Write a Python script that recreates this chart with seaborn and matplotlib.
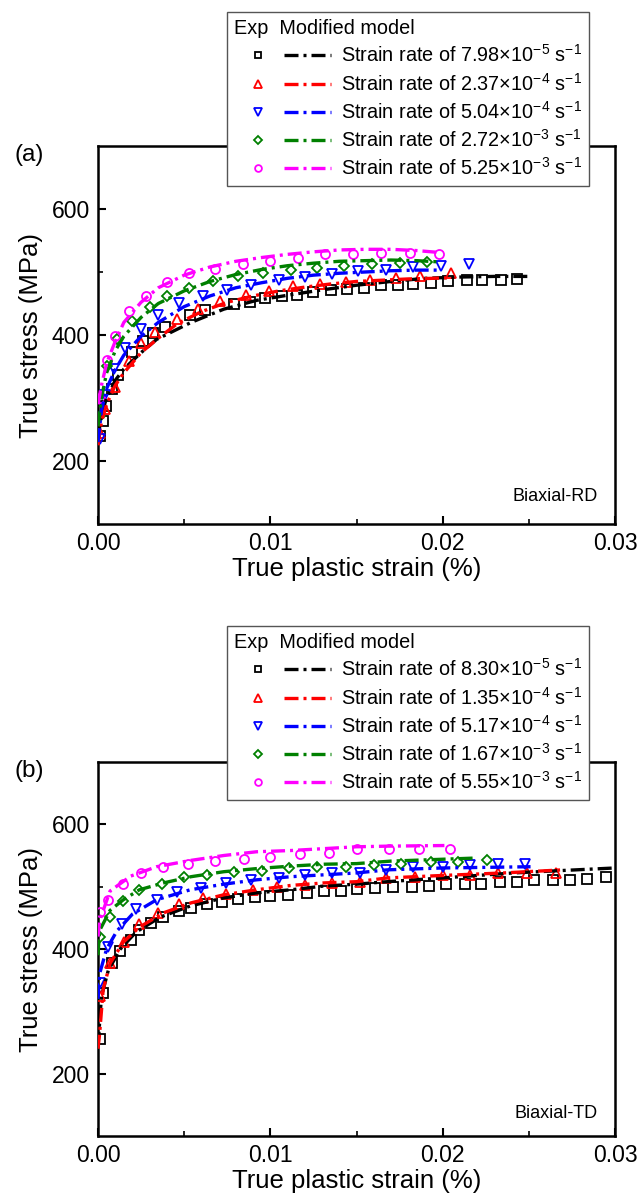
import numpy as np
import matplotlib
matplotlib.use("Agg")
import matplotlib.pyplot as plt
import seaborn as sns
from matplotlib.lines import Line2D
from matplotlib.legend_handler import HandlerTuple

sns.set_style("ticks")
plt.rcParams['font.family'] = ['Liberation Sans', 'DejaVu Sans']
plt.rcParams['mathtext.fontset'] = 'custom'
plt.rcParams['mathtext.rm'] = 'Liberation Sans'
plt.rcParams['mathtext.it'] = 'Liberation Sans:italic'
plt.rcParams['mathtext.bf'] = 'Liberation Sans:bold'
plt.rcParams['text.color'] = 'black'
plt.rcParams['axes.labelcolor'] = 'black'
plt.rcParams['xtick.color'] = 'black'
plt.rcParams['ytick.color'] = 'black'

colors = ['#000000', '#FF0000', '#0000FF', '#008000', '#FF00FF']
markers = ['s', '^', 'v', 'D', 'o']

rd_labels = ["7.98", "2.37", "5.04", "2.72", "5.25"]
rd_exps = [-5, -4, -4, -3, -3]
td_labels = ["8.30", "1.35", "5.17", "1.67", "5.55"]
td_exps = [-5, -4, -4, -3, -3]

# ---------------- Biaxial-RD (a) ----------------
rd_model_x_1 = [0, 0.0002, 0.0005, 0.001, 0.0015, 0.0025, 0.0034, 0.0054, 0.0073, 0.0092, 0.0112, 0.0131, 0.015, 0.017, 0.019, 0.021, 0.023, 0.025]
rd_model_y_1 = [235, 275, 300, 328, 346, 372, 393, 420, 441, 455, 464, 472, 479, 485, 490, 492, 493, 493]
rd_exp_x_1 = [0.0001, 0.0003, 0.00047, 0.0008, 0.00118, 0.002, 0.00263, 0.0032, 0.0039, 0.00535, 0.0062, 0.0079, 0.0088, 0.0097, 0.0107, 0.01155, 0.0125, 0.0135, 0.01445, 0.01543, 0.0164, 0.0174, 0.0183, 0.0193, 0.0203, 0.0214, 0.0223, 0.0234, 0.0243]
rd_exp_y_1 = [240, 263, 288, 314, 337, 373, 391, 403, 413, 431, 439, 449, 453, 459, 462, 464, 468, 471, 473, 475, 479, 479, 481, 483, 485, 487, 488, 488, 489]

rd_model_x_2 = [0, 0.0002, 0.0005, 0.001, 0.0015, 0.0025, 0.0035, 0.0046, 0.006, 0.0075, 0.009, 0.0105, 0.012, 0.0135, 0.015, 0.0165, 0.018, 0.0195, 0.0205]
rd_model_y_2 = [225, 262, 290, 320, 340, 372, 395, 418, 437, 452, 462, 470, 476, 481, 485, 487, 489, 490, 491]
rd_exp_x_2 = [0.0001, 0.0004, 0.001, 0.0018, 0.0025, 0.0033, 0.0046, 0.0058, 0.0071, 0.0086, 0.0099, 0.0113, 0.0129, 0.0144, 0.0158, 0.0173, 0.0187, 0.0205]
rd_exp_y_2 = [245, 283, 318, 358, 388, 405, 426, 441, 454, 463, 470, 477, 481, 484, 488, 490, 493, 499]

rd_model_x_3 = [0, 0.0002, 0.0005, 0.001, 0.0015, 0.0025, 0.0035, 0.005, 0.0065, 0.008, 0.0095, 0.011, 0.0125, 0.014, 0.0155, 0.017, 0.0185, 0.0198]
rd_model_y_3 = [230, 280, 315, 345, 368, 398, 420, 445, 462, 475, 483, 490, 495, 498, 500, 502, 503, 503]
rd_exp_x_3 = [0.0001, 0.0004, 0.0009, 0.00157, 0.0025, 0.0035, 0.0047, 0.0061, 0.0075, 0.0089, 0.0105, 0.012, 0.0136, 0.0151, 0.0167, 0.0183, 0.0199, 0.0215]
rd_exp_y_3 = [235, 305, 346, 380, 409, 431, 451, 462, 472, 480, 487, 492, 497, 501, 503, 508, 510, 513]

rd_model_x_4 = [0, 0.0002, 0.0005, 0.001, 0.0015, 0.0025, 0.0035, 0.005, 0.0065, 0.008, 0.0095, 0.011, 0.0125, 0.014, 0.0155, 0.017, 0.0185, 0.0198]
rd_model_y_4 = [255, 300, 340, 375, 398, 428, 450, 470, 485, 496, 504, 510, 514, 517, 518, 519, 518, 516]
rd_exp_x_4 = [0.0001, 0.0005, 0.0011, 0.002, 0.003, 0.004, 0.0053, 0.0067, 0.0081, 0.0096, 0.0112, 0.0127, 0.0143, 0.0159, 0.0175, 0.0191]
rd_exp_y_4 = [272, 350, 393, 422, 445, 462, 475, 486, 494, 499, 503, 507, 509, 513, 514, 516]

rd_model_x_5 = [0, 0.0002, 0.0005, 0.001, 0.0015, 0.0025, 0.0035, 0.005, 0.0065, 0.008, 0.0095, 0.011, 0.0125, 0.014, 0.0155, 0.017, 0.0185, 0.0198]
rd_model_y_5 = [290, 320, 355, 390, 420, 452, 475, 495, 508, 517, 523, 528, 532, 535, 536, 536, 534, 531]
rd_exp_x_5 = [0.0001, 0.0005, 0.001, 0.0018, 0.0028, 0.004, 0.0053, 0.0068, 0.0084, 0.01, 0.0116, 0.0132, 0.0148, 0.0164, 0.0181, 0.0198]
rd_exp_y_5 = [300, 360, 398, 438, 462, 484, 498, 505, 513, 518, 522, 528, 529, 530, 530, 529]

# ---------------- Biaxial-TD (b) ----------------
td_model_x_1 = [0, 0.0002, 0.0006, 0.0013, 0.0022, 0.0036, 0.00535, 0.0073, 0.0092, 0.0112, 0.0131, 0.015, 0.0168, 0.0205, 0.0241, 0.027, 0.03]
td_model_y_1 = [245, 324, 366, 400, 427, 451, 469, 482, 490, 495, 501, 504, 508, 515, 522, 526, 530]
td_exp_x_1 = [0.0001, 0.0003, 0.0008, 0.0013, 0.0019, 0.0024, 0.0031, 0.0038, 0.0047, 0.0054, 0.0063, 0.0072, 0.0081, 0.0091, 0.01, 0.011, 0.0121, 0.0131, 0.0141, 0.015, 0.0161, 0.0171, 0.0182, 0.0192, 0.0202, 0.0213, 0.0222, 0.0233, 0.0243, 0.0253, 0.0264, 0.0274, 0.0284, 0.0295]
td_exp_y_1 = [255, 330, 377, 396, 415, 430, 442, 452, 461, 466, 472, 476, 481, 483, 485, 487, 490, 493, 493, 497, 498, 499, 500, 501, 504, 505, 505, 507, 508, 510, 510, 510, 513, 515]

td_model_x_2 = [0, 0.0001, 0.0003, 0.0007, 0.00147, 0.0024, 0.0038, 0.0054, 0.0073, 0.0092, 0.0112, 0.0131, 0.015, 0.0168, 0.02, 0.0235, 0.027]
td_model_y_2 = [240, 266, 335, 377, 411, 435, 458, 474, 487, 495, 502, 506, 508, 514, 518, 522, 527]
td_exp_x_2 = [0.0001, 0.0007, 0.0015, 0.0024, 0.0035, 0.0047, 0.0061, 0.0074, 0.009, 0.0104, 0.012, 0.0136, 0.0152, 0.0167, 0.0184, 0.02, 0.0216, 0.0232, 0.0249, 0.0266]
td_exp_y_2 = [324, 377, 412, 440, 458, 472, 482, 488, 495, 499, 503, 506, 508, 514, 516, 518, 519, 522, 522, 522]

td_model_x_3 = [0, 0.0001, 0.0005, 0.0011, 0.002, 0.0034, 0.00535, 0.0073, 0.0092, 0.0112, 0.0131, 0.015, 0.0168, 0.02, 0.0251]
td_model_y_3 = [320, 361, 400, 429, 456, 479, 495, 504, 511, 516, 519, 522, 527, 530, 532]
td_exp_x_3 = [0.0001, 0.0006, 0.0014, 0.0022, 0.0034, 0.0046, 0.006, 0.0074, 0.0089, 0.0105, 0.012, 0.0136, 0.0152, 0.0167, 0.0183, 0.02, 0.0216, 0.0232, 0.0248]
td_exp_y_3 = [345, 403, 440, 464, 479, 491, 498, 506, 510, 514, 519, 522, 522, 527, 531, 532, 534, 536, 536]

td_model_x_4 = [0, 0.0001, 0.0007, 0.00147, 0.0024, 0.0038, 0.0054, 0.0073, 0.0092, 0.0112, 0.0131, 0.015, 0.017, 0.022]
td_model_y_4 = [390, 430, 462, 479, 495, 506, 516, 524, 529, 533, 536, 537, 541, 546]
td_exp_x_4 = [0.0001, 0.0007, 0.00147, 0.0024, 0.0037, 0.005, 0.0063, 0.0079, 0.0095, 0.0111, 0.0127, 0.0144, 0.016, 0.0176, 0.0193, 0.0209, 0.0226]
td_exp_y_4 = [420, 452, 477, 494, 505, 515, 519, 523, 525, 530, 532, 532, 535, 536, 539, 540, 542]

td_model_x_5 = [0, 0.0001, 0.0007, 0.0019, 0.0034, 0.00535, 0.0073, 0.0092, 0.0112, 0.0131, 0.015, 0.0168, 0.0201]
td_model_y_5 = [420, 446, 493, 517, 532, 542, 550, 556, 558, 561, 564, 565, 566]
td_exp_x_5 = [0.0001, 0.0006, 0.00147, 0.0025, 0.0038, 0.0052, 0.0068, 0.0085, 0.01, 0.0117, 0.0134, 0.015, 0.0169, 0.0186, 0.0204]
td_exp_y_5 = [460, 479, 505, 522, 532, 537, 541, 545, 548, 552, 554, 561, 561, 561, 561]

rd_models = [(rd_model_x_1, rd_model_y_1), (rd_model_x_2, rd_model_y_2), (rd_model_x_3, rd_model_y_3),
             (rd_model_x_4, rd_model_y_4), (rd_model_x_5, rd_model_y_5)]
rd_exps_data = [(rd_exp_x_1, rd_exp_y_1), (rd_exp_x_2, rd_exp_y_2), (rd_exp_x_3, rd_exp_y_3),
                (rd_exp_x_4, rd_exp_y_4), (rd_exp_x_5, rd_exp_y_5)]
td_models = [(td_model_x_1, td_model_y_1), (td_model_x_2, td_model_y_2), (td_model_x_3, td_model_y_3),
             (td_model_x_4, td_model_y_4), (td_model_x_5, td_model_y_5)]
td_exps_data = [(td_exp_x_1, td_exp_y_1), (td_exp_x_2, td_exp_y_2), (td_exp_x_3, td_exp_y_3),
                (td_exp_x_4, td_exp_y_4), (td_exp_x_5, td_exp_y_5)]

W, H = 638, 1196
fig = plt.figure(figsize=(W / 100, H / 100), dpi=100)
ax_a = fig.add_axes([98 / W, 1 - 524 / H, 517 / W, 378 / H])
ax_b = fig.add_axes([98 / W, 1 - 1136 / H, 517 / W, 374 / H])

dash = (0, (4.2, 1.5, 0.9, 1.5))
ms_map = {'s': 6.5, '^': 7, 'v': 7, 'D': 5.5, 'o': 6.5}


def draw_panel(ax, models, exps, labels, exps_pow, tag, name, name_y, legend_top):
    for i in range(5):
        mx, my = models[i]
        ex, ey = exps[i]
        sns.lineplot(x=ex, y=ey, ax=ax, estimator=None, sort=False, linestyle='none',
                     marker=markers[i], markersize=ms_map[markers[i]], markerfacecolor='none',
                     markeredgecolor=colors[i], markeredgewidth=1.3, color=colors[i], zorder=3)
        sns.lineplot(x=mx, y=my, ax=ax, estimator=None, sort=False, color=colors[i],
                     linewidth=2.4, linestyle=dash, zorder=4)
    ax.set_xlim(0, 0.03)
    ax.set_ylim(100, 700)
    ax.set_xticks([0, 0.01, 0.02, 0.03])
    ax.set_xticklabels(["0.00", "0.01", "0.02", "0.03"])
    ax.set_xticks([0.005, 0.015, 0.025], minor=True)
    ax.set_yticks([200, 400, 600])
    ax.set_yticks([300, 500], minor=True)
    ax.tick_params(axis='both', which='major', direction='in', length=6, width=1.5,
                   labelsize=16.5, pad=6)
    ax.tick_params(axis='both', which='minor', direction='in', length=3.5, width=1.2)
    for s in ax.spines.values():
        s.set_linewidth(1.8)
        s.set_color('black')
    ax.set_xlabel("True plastic strain (%)", fontsize=18.5, labelpad=1)
    ax.set_ylabel("True stress (MPa)", fontsize=18.5, labelpad=6)
    ax.text(0.967, name_y, name, transform=ax.transAxes, ha='right', va='center', fontsize=13)
    ax.text(-0.162, 0.975, tag, transform=ax.transAxes, ha='left', va='center', fontsize=17.5)

    handles = []
    texts = []
    for i in range(5):
        mk = Line2D([], [], linestyle='none', marker=markers[i], markersize=ms_map[markers[i]] * 0.75,
                    markerfacecolor='none', markeredgecolor=colors[i], markeredgewidth=1.3)
        ln = Line2D([], [], color=colors[i], linewidth=2.4, linestyle=dash)
        handles.append((mk, ln))
        texts.append("Strain rate of %s$\\times$10$^{%s}$ s$^{\\mathregular{-1}}$" % (labels[i], "\\mathregular{%d}" % exps_pow[i]))
    leg = fig.legend(handles, texts, loc='upper left', bbox_to_anchor=(227 / W, 1 - legend_top / H),
                     bbox_transform=fig.transFigure, borderaxespad=0, fontsize=14.3,
                     handler_map={tuple: HandlerTuple(ndivide=None, pad=0.1)},
                     handlelength=4.9, handletextpad=0.5, labelspacing=0.32, borderpad=0.35,
                     title="Exp  Modified model", title_fontsize=14.3, alignment='left',
                     fancybox=False, framealpha=1, edgecolor='#555555')
    leg.get_frame().set_linewidth(1.0)


draw_panel(ax_a, rd_models, rd_exps_data, rd_labels, rd_exps, "(a)", "Biaxial-RD", 0.074, 12)
draw_panel(ax_b, td_models, td_exps_data, td_labels, td_exps, "(b)", "Biaxial-TD", 0.06, 626)

fig.savefig("out.png", dpi=100)
